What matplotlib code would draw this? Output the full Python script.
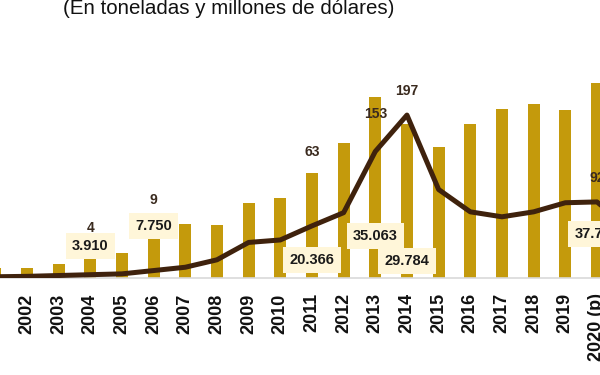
import matplotlib
matplotlib.use("Agg")
import matplotlib.pyplot as plt
import numpy as np

plt.rcParams['font.family'] = ['Liberation Sans', 'DejaVu Sans']

years = ["2001", "2002", "2003", "2004", "2005", "2006", "2007", "2008", "2009", "2010",
         "2011", "2012", "2013", "2014", "2015", "2016", "2017", "2018", "2019", "2020 (p)", "2021"]
# Volume (toneladas)
tons = [1930, 1950, 2700, 3910, 4800, 7750, 10400, 10250, 14500, 15500,
        20366, 26100, 35063, 29784, 25300, 29800, 32700, 33700, 32500, 37736, 34000]
# Valor (millones de dólares)
usd = [1.5, 2, 3, 4, 5, 9, 13, 22, 43, 46,
       63, 79, 153, 197, 107, 80, 74, 80, 91, 92, 60]

# labelled points: (index, label y in axis units)
ton_labels_idx = [3, 5, 10, 12, 13, 19]
ton_labels_y = [6200, 10100, 3500, 8100, 3300, 8500]
usd_labels_idx = [3, 5, 10, 12, 13, 19]
usd_labels_y = [60, 94, 152, 198, 226, 121]

title = "(En toneladas y millones de dólares)"

BAR_C = "#C49A0C"
LINE_C = "#3F220D"

W, H = 600, 375
EXT = 40  # axes extends beyond the visible crop on both sides (px)
PX_PER_CAT = 31.67
fig = plt.figure(figsize=(6, 3.75), dpi=100)
rect = [-EXT / W, 97 / H, (W + 2 * EXT) / W, 278 / H]
ax = fig.add_axes(rect)
ax2 = fig.add_axes(rect)
ax2.patch.set_visible(False)

x = np.arange(len(years))
ax.bar(x, tons, width=0.38, color=BAR_C, zorder=2)
ax2.plot(x, usd, color=LINE_C, lw=3.6, solid_capstyle='round', solid_joinstyle='round', zorder=3)

ax.set_xticks(x)
ax.set_xticklabels(years, rotation=90, fontsize=13, fontweight='bold', color='#111111')
ax.tick_params(axis='x', length=0, pad=11)

XL = (0.15 - EXT / PX_PER_CAT, 0.15 + (W + EXT) / PX_PER_CAT)
ax.set_xlim(*XL)
ax2.set_xlim(*XL)
ax.set_ylim(0, 278 / 5.17 * 1000)
ax2.set_ylim(0, 278 / 0.827)

for s in ("top", "right", "left"):
    ax.spines[s].set_visible(False)
ax.spines["bottom"].set_color("#d9d9d9")
ax.spines["bottom"].set_linewidth(1.2)
ax.set_yticks([])
ax2.axis('off')

for i, yv in zip(ton_labels_idx, ton_labels_y):
    lbl = f"{tons[i]:,}".replace(",", ".")
    ax2.text(x[i], yv * ax2.get_ylim()[1] / ax.get_ylim()[1], lbl, ha='center', va='center',
             fontsize=10.5, fontweight='bold', color='#1a1a1a', zorder=5,
             bbox=dict(boxstyle='square,pad=0.42', fc='#FFF6D9', ec='none'))

for i, yv in zip(usd_labels_idx, usd_labels_y):
    ax2.text(x[i], yv, f"{usd[i]:g}", ha='center', va='center', fontsize=10,
             fontweight='bold', color='#3a2a1e', zorder=5)

fig.text(229 / W, 1 - 14 / H, title, ha='center', va='baseline', fontsize=14.8, color='#111111')

fig.savefig("out.png", dpi=100)
